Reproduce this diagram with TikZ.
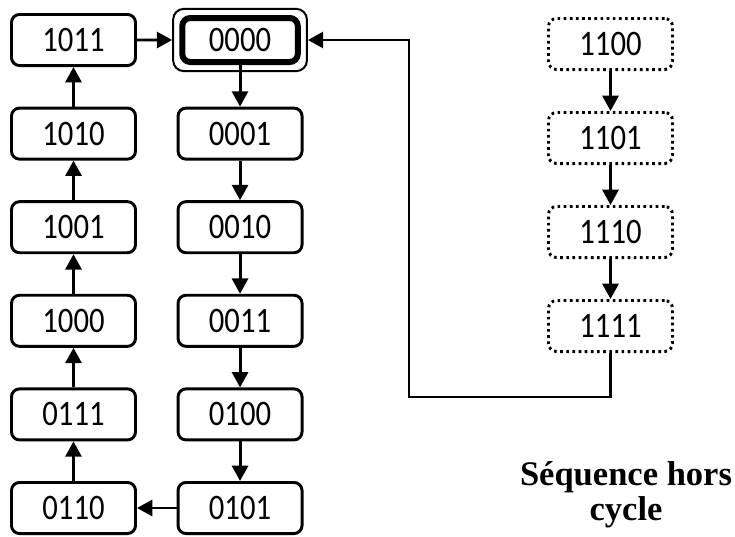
\documentclass[tikz,border=0pt]{standalone}
\usepackage{fontspec}
\setmainfont{Carlito}
\newfontfamily\captionfont{Liberation Serif}
\usepackage{graphicx}
\usetikzlibrary{arrows.meta,positioning,fit}
\newcommand{\code}[1]{\scalebox{1}[1.17]{#1}}

\begin{document}
\begin{tikzpicture}[x=0.75pt,y=-0.75pt,node distance=29.7pt,
    state/.style={draw,line width=2.2pt,rounded corners=6pt,minimum width=93pt,minimum height=38.3pt,inner sep=0pt,font=\fontsize{23}{23}\selectfont},
    ghost/.style={state,dash pattern=on 2pt off 2.6pt},
    link/.style={-{Triangle[length=11.5pt,width=12pt]},line width=2.2pt}]
    \useasboundingbox (0,0) rectangle (735,536);
    % counting cycle, left column goes up
    \node[state] (s1011) at (73.5,40) {\code{1011}};
    \node[state,below=of s1011] (s1010) {\code{1010}};
    \node[state,below=of s1010] (s1001) {\code{1001}};
    \node[state,below=of s1001] (s1000) {\code{1000}};
    \node[state,below=of s1000] (s0111) {\code{0111}};
    \node[state,below=of s0111] (s0110) {\code{0110}};
    % right column goes down
    \node[state,right=of s1010] (s0001) {\code{0001}};
    \node[state,below=of s0001] (s0010) {\code{0010}};
    \node[state,below=of s0010] (s0011) {\code{0011}};
    \node[state,below=of s0011] (s0100) {\code{0100}};
    \node[state,below=of s0100] (s0101) {\code{0101}};
    \node[state,line width=4.5pt,minimum width=86.6pt,minimum height=33pt,above=31.2pt of s0001] (s0000) {\code{0000}};
    \node[draw,line width=1.5pt,rounded corners=8pt,inner sep=4.6pt,fit=(s0000)] (s0000out) {};
    % states outside the cycle
    \node[ghost] (s1100) at (610.5,44) {\code{1100}};
    \node[ghost,below=30pt of s1100] (s1101) {\code{1101}};
    \node[ghost,below=30pt of s1101] (s1110) {\code{1110}};
    \node[ghost,below=30pt of s1110] (s1111) {\code{1111}};
    \coordinate (bend) at (409,397);

    \draw[link] (s0110) -- (s0111);
    \draw[link] (s0111) -- (s1000);
    \draw[link] (s1000) -- (s1001);
    \draw[link] (s1001) -- (s1010);
    \draw[link] (s1010) -- (s1011);
    \draw[link] (s1011) -- (s0000out);
    \draw[link] (s0000.south) -- (s0001);
    \draw[link] (s0001) -- (s0010);
    \draw[link] (s0010) -- (s0011);
    \draw[link] (s0011) -- (s0100);
    \draw[link] (s0100) -- (s0101);
    \draw[link] (s0101) -- (s0110);
    \draw[link] (s1100) -- (s1101);
    \draw[link] (s1101) -- (s1110);
    \draw[link] (s1110) -- (s1111);
    \draw[link,rounded corners=0pt] (s1111.south) |- (bend) |- (s0000out.east);

    \node[align=center,font=\captionfont\bfseries\fontsize{25.9}{26.3}\selectfont] (note) at (626,494.5) {Séquence hors\\cycle};
\end{tikzpicture}
\end{document}
